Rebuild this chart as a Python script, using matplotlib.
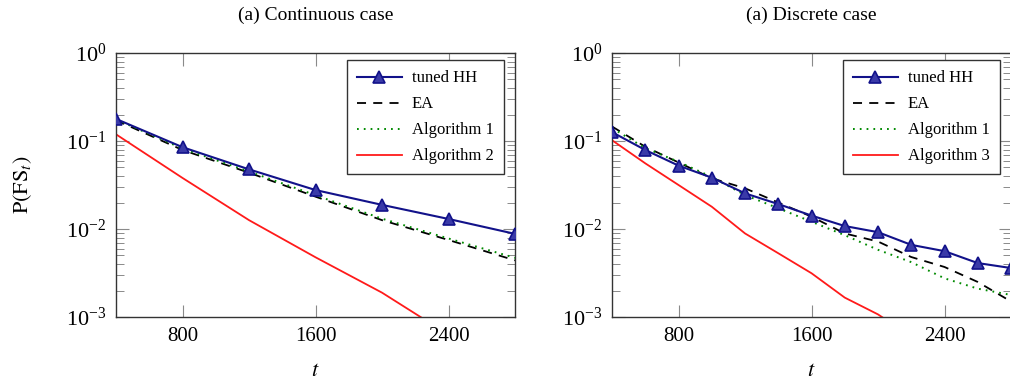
import matplotlib
matplotlib.use("Agg")
import matplotlib.pyplot as plt
from matplotlib.ticker import LogLocator, NullFormatter, FixedLocator

plt.rcParams["font.family"] = ["Liberation Serif", "DejaVu Serif"]
plt.rcParams["mathtext.fontset"] = "stix"

# continuous case
t_cont = [400, 800, 1200, 1600, 2000, 2400, 2800]
hh_cont = [0.178, 0.085, 0.0476, 0.0277, 0.0188, 0.013, 0.0088]
ea_cont = [0.172, 0.079, 0.0436, 0.0233, 0.0126, 0.0075, 0.0044]
alg1_cont = [0.176, 0.082, 0.045, 0.0242, 0.0131, 0.0078, 0.0047]
alg2_cont = [0.119, 0.038, 0.0126, 0.00477, 0.00189, 0.00063, 0.0002]

# discrete case
t_disc = [400, 600, 800, 1000, 1200, 1400, 1600, 1800, 2000, 2200, 2400, 2600, 2800]
hh_disc = [0.126, 0.079, 0.0525, 0.0383, 0.0254, 0.0192, 0.0142, 0.0108,
           0.0092, 0.0066, 0.0056, 0.0041, 0.0036]
ea_disc = [0.146, 0.086, 0.057, 0.0377, 0.029, 0.020, 0.0138, 0.0089,
           0.0072, 0.0048, 0.0037, 0.0025, 0.0015]
alg1_disc = [0.140, 0.083, 0.058, 0.039, 0.0243, 0.0172, 0.0121, 0.0085,
             0.0058, 0.0042, 0.00275, 0.0021, 0.00178]
alg3_disc = [0.102, 0.0557, 0.0316, 0.0179, 0.0089, 0.0053, 0.00314, 0.00166,
             0.00107, 0.0006, 0.0003, 0.00015, 0.00008]

NAVY = "#12128a"
GREEN = "#008a00"
RED = "#ff1a1a"


def draw_panel(ax, t, hh, ea, alg1, algx, algx_label, title):
    ax.plot(t, hh, color=NAVY, lw=1.5, marker="^", ms=8,
            markerfacecolor="#3a3aa8", markeredgecolor=NAVY, mew=1.2,
            label="tuned HH", zorder=5)
    ax.plot(t, ea, color="black", lw=1.3, dashes=(5, 4), label="EA", zorder=3)
    ax.plot(t, alg1, color=GREEN, lw=1.4, dashes=(0.9, 2.6), label="Algorithm 1", zorder=4)
    ax.plot(t, algx, color=RED, lw=1.3, label=algx_label, zorder=2)

    ax.set_yscale("log")
    ax.set_xlim(400, 2800)
    ax.set_ylim(1e-3, 1e0)
    ax.xaxis.set_major_locator(FixedLocator([800, 1600, 2400]))
    ax.yaxis.set_major_locator(LogLocator(base=10, numticks=10))
    ax.yaxis.set_minor_locator(LogLocator(base=10, subs=range(2, 10), numticks=10))
    ax.yaxis.set_minor_formatter(NullFormatter())

    ax.tick_params(which="both", direction="in", top=True, right=True,
                   color="#8a8a8a", pad=7)
    ax.tick_params(axis="x", labelsize=15)
    ax.tick_params(axis="y", labelsize=16)
    ax.tick_params(which="major", length=9, width=0.8)
    ax.tick_params(which="minor", length=6, width=0.7)
    for spine in ax.spines.values():
        spine.set_edgecolor("#333333")
        spine.set_linewidth(1.0)

    ax.set_xlabel("$t$", fontsize=16, labelpad=12)
    ax.set_title(title, fontsize=14, pad=24)

    leg = ax.legend(loc="upper right", bbox_to_anchor=(0.972, 0.972),
                    borderaxespad=0, fontsize=12, handlelength=2.7,
                    labelspacing=0.6, fancybox=False, framealpha=1,
                    borderpad=0.6, handletextpad=0.6)
    leg.get_frame().set_edgecolor("#333333")
    leg.get_frame().set_linewidth(1.0)


fig = plt.figure(figsize=(10.1, 3.84), dpi=100)
ax1 = fig.add_axes([0.1149, 0.1745, 0.395, 0.6875])
ax2 = fig.add_axes([0.606, 0.1745, 0.395, 0.6875])

draw_panel(ax1, t_cont, hh_cont, ea_cont, alg1_cont, alg2_cont,
           "Algorithm 2", "(a) Continuous case")
draw_panel(ax2, t_disc, hh_disc, ea_disc, alg1_disc, alg3_disc,
           "Algorithm 3", "(a) Discrete case")

ax1.set_ylabel(r"$\mathrm{P}\left(\mathrm{FS}_t\right)$", fontsize=16)
ax1.yaxis.set_label_coords(-0.205, 0.5)

fig.savefig("out.png", dpi=100)
plt.close(fig)
